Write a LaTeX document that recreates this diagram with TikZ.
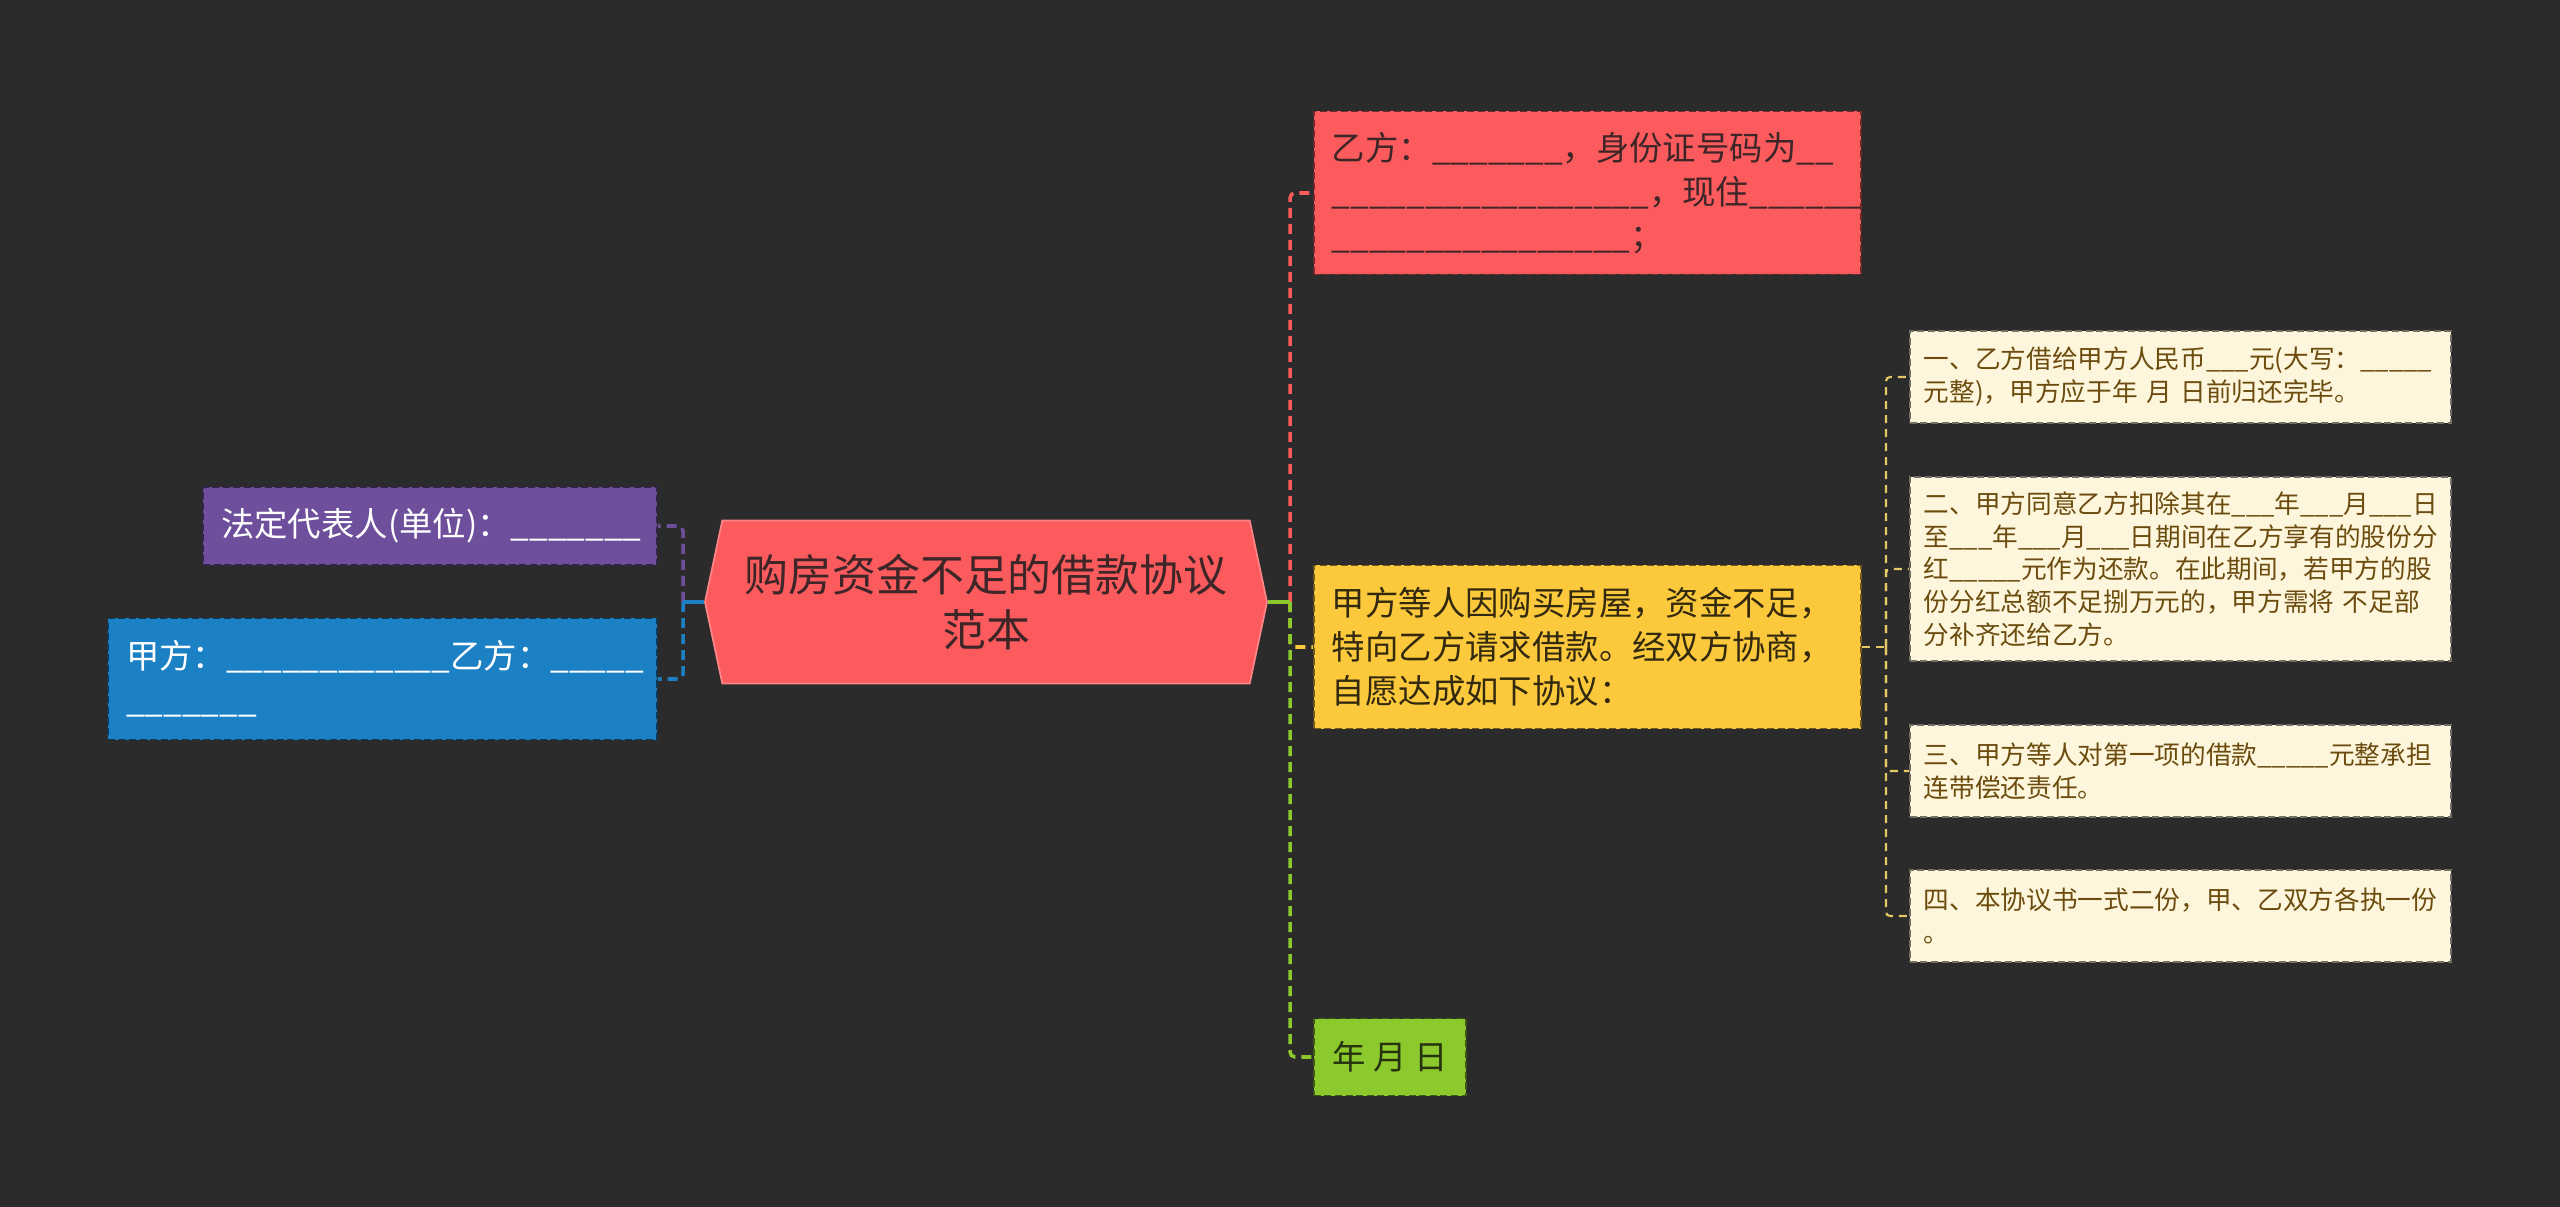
\documentclass[tikz,border=0pt]{standalone}
\usepackage{fontspec}
\setmainfont{Noto Sans CJK SC}
\usetikzlibrary{shapes.symbols}

\definecolor{bgdark}{HTML}{2B2B2B}
\definecolor{redc}{HTML}{FC5B5E}
\definecolor{redtxt}{HTML}{3E2527}
\definecolor{purplec}{HTML}{6E4F9C}
\definecolor{bluec}{HTML}{1B80C4}
\definecolor{yellowc}{HTML}{FBC93B}
\definecolor{yellowtxt}{HTML}{33290F}
\definecolor{greenc}{HTML}{8CC92C}
\definecolor{greentxt}{HTML}{25330F}
\definecolor{creamc}{HTML}{FEF6DC}
\definecolor{creamtxt}{HTML}{6B4C0E}
\definecolor{creamline}{HTML}{E3C865}

\newcommand\rootfont{\fontsize{12.5}{15.8}\selectfont}
\newcommand\branchfont{\fontsize{9.5}{12.5}\selectfont}
\newcommand\leaffont{\fontsize{7.3}{9.3}\selectfont}
\newcommand\ublank[1]{\ifnum#1>0 \_\ublank{\numexpr#1-1\relax}\fi}

\begin{document}
\begin{tikzpicture}[
    box/.style={fill=#1, draw=#1!45!black, dashed, dash pattern=on 2pt off 1pt,
      line width=0.5pt, inner xsep=0.18cm, inner ysep=0pt, align=left},
    rootbox/.style={signal, signal to=west and east, signal pointer angle=156,
      fill=redc, draw=redc!75!white, line width=0.5pt, minimum width=5.62cm,
      minimum height=1.63cm, align=center, text=redtxt, font=\rootfont},
    link/.style={dash pattern=on 0.1cm off 0.06cm, line width=1pt, rounded corners=0.05cm},
    leaflink/.style={creamline, dash pattern=on 0.08cm off 0.06cm, line width=0.6pt, rounded corners=0.04cm}]
    \fill[bgdark] (0,0) rectangle (25.6,-12.07);
    \useasboundingbox (0,0) rectangle (25.6,-12.07);

    % centre
    \node[rootbox] (root) at (9.86,-6.02) {购房资金不足的借款协议\\范本};

    % left side
    \node[box=purplec, text=white, anchor=east, text width=4.18cm, minimum height=0.78cm, font=\branchfont] (rep) at (6.58,-5.26) {法定代表人(单位)：\ublank{7}};
    \node[box=bluec, text=white, anchor=east, text width=5.13cm, minimum height=1.21cm, font=\branchfont] (parties) at (6.58,-6.79) {甲方：\ublank{12}乙方：\ublank{5}\\\ublank{7}};

    % right side
    \node[box=redc, text=redtxt, anchor=west, text width=5.11cm, minimum height=1.63cm, font=\branchfont] (partyb) at (13.13,-1.93) {乙方：\ublank{7}，身份证号码为\ublank{2}\\\ublank{17}，现住\ublank{6}\\\ublank{16}；};
    \node[box=yellowc, text=yellowtxt, anchor=west, text width=5.11cm, minimum height=1.63cm, font=\branchfont] (intro) at (13.13,-6.47) {甲方等人因购买房屋，资金不足，\\特向乙方请求借款。经双方协商，\\自愿达成如下协议：};
    \node[box=greenc, text=greentxt, anchor=west, minimum width=1.52cm, minimum height=0.77cm, font=\branchfont] (date) at (13.13,-10.57) {年 月 日};

    % clauses
    \node[box=creamc, text=creamtxt, inner xsep=0.14cm, anchor=west, text width=5.13cm, minimum height=0.92cm, font=\leaffont] (c1) at (19.09,-3.77) {一、乙方借给甲方人民币\ublank{3}元(大写：\ublank{5}\\元整)，甲方应于年 月 日前归还完毕。};
    \node[box=creamc, text=creamtxt, inner xsep=0.14cm, anchor=west, text width=5.13cm, minimum height=1.84cm, font=\leaffont] (c2) at (19.09,-5.69) {二、甲方同意乙方扣除其在\ublank{3}年\ublank{3}月\ublank{3}日\\至\ublank{3}年\ublank{3}月\ublank{3}日期间在乙方享有的股份分\\红\ublank{5}元作为还款。在此期间，若甲方的股\\份分红总额不足捌万元的，甲方需将 不足部\\分补齐还给乙方。};
    \node[box=creamc, text=creamtxt, inner xsep=0.14cm, anchor=west, text width=5.13cm, minimum height=0.92cm, font=\leaffont] (c3) at (19.09,-7.71) {三、甲方等人对第一项的借款\ublank{5}元整承担\\连带偿还责任。};
    \node[box=creamc, text=creamtxt, inner xsep=0.14cm, anchor=west, text width=5.13cm, minimum height=0.92cm, font=\leaffont] (c4) at (19.09,-9.16) {四、本协议书一式二份，甲、乙双方各执一份\\。};

    % junctions
    \coordinate (lj) at (6.83,-6.02);
    \coordinate (rj) at (12.90,-6.02);
    \coordinate (cj) at (18.86,-6.47);

    % connectors
    \draw[link, purplec] (lj) |- (rep.east);
    \draw[link, bluec] (lj) |- (parties.east);
    \draw[line width=1pt, bluec] (root.west) -- (lj);
    \draw[link, redc] (rj) |- (partyb.west);
    \draw[link, yellowc] (rj) |- (intro.west);
    \draw[link, greenc] (rj) |- (date.west);
    \draw[line width=1pt, greenc] (root.east) -- (rj);
    \draw[leaflink] (intro.east) -- (cj);
    \draw[leaflink] (cj) |- (c1.west);
    \draw[leaflink] (cj) |- (c2.west);
    \draw[leaflink] (cj) |- (c3.west);
    \draw[leaflink] (cj) |- (c4.west);
\end{tikzpicture}
\end{document}
